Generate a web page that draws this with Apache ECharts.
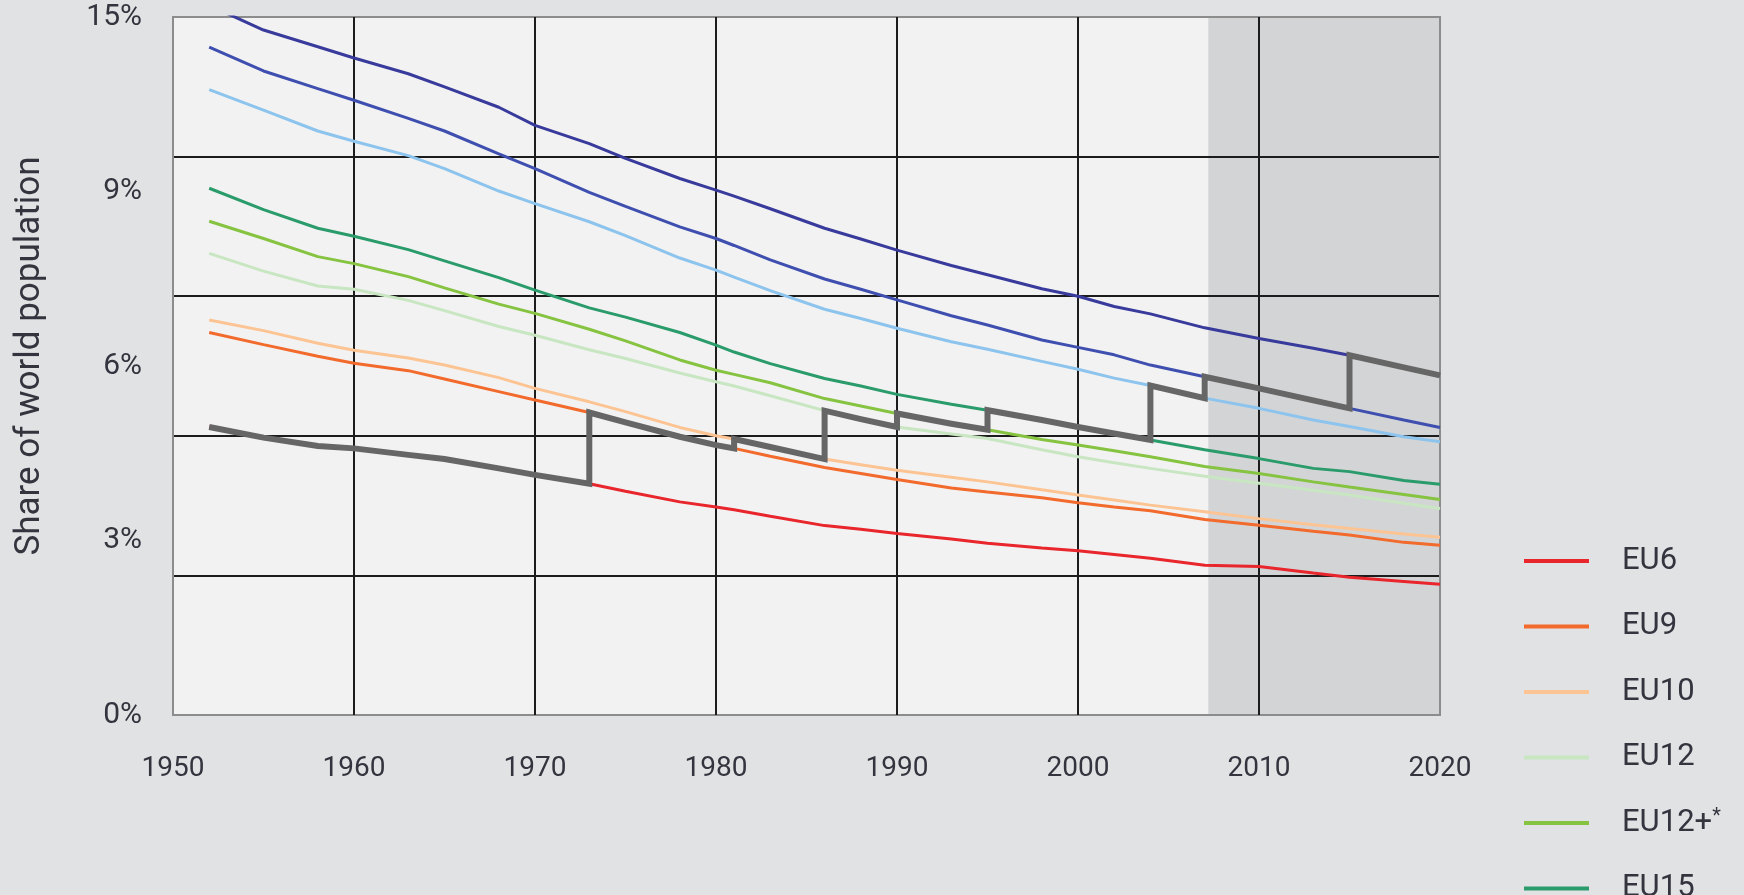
<!DOCTYPE html>
<html>
<head>
<meta charset="utf-8">
<script src="https://cdn.jsdelivr.net/npm/echarts@6/dist/echarts.min.js"></script>
<style>
html,body{margin:0;padding:0;background:#e1e2e4;}
#chart{width:1744px;height:895px;}
</style>
</head>
<body>
<div id="chart"></div>
<script>
// ---- data (share of world population, %) ----
const years = [1952,1955,1958,1960,1963,1965,1968,1970,1973,1975,1978,1980,1981,1983,1986,1988,1990,1993,1995,1998,2000,2002,2004,2007,2010,2013,2015,2018,2020];

const eu6   = [6.19,5.96,5.78,5.73,5.59,5.50,5.30,5.16,4.97,4.81,4.58,4.47,4.41,4.27,4.07,3.99,3.90,3.78,3.69,3.59,3.53,3.45,3.37,3.22,3.19,3.05,2.96,2.87,2.81];
const eu9   = [8.22,7.96,7.71,7.56,7.40,7.22,6.95,6.77,6.50,6.29,5.98,5.80,5.73,5.56,5.32,5.19,5.06,4.88,4.79,4.67,4.56,4.47,4.39,4.20,4.08,3.95,3.87,3.71,3.65];
const eu10  = [8.49,8.26,7.99,7.84,7.67,7.52,7.25,7.02,6.73,6.52,6.18,6.00,5.93,5.76,5.50,5.38,5.26,5.11,5.01,4.84,4.73,4.62,4.51,4.37,4.22,4.09,4.01,3.89,3.82];
const eu12  = [9.92,9.54,9.22,9.15,8.91,8.69,8.35,8.16,7.85,7.66,7.35,7.16,7.07,6.86,6.54,6.36,6.19,6.04,5.94,5.70,5.55,5.42,5.30,5.13,4.98,4.83,4.73,4.55,4.44];
const eu12p = [10.61,10.24,9.85,9.70,9.42,9.18,8.83,8.63,8.29,8.04,7.63,7.41,7.32,7.14,6.80,6.64,6.48,6.26,6.13,5.92,5.80,5.68,5.55,5.34,5.19,5.01,4.90,4.74,4.63];
const eu15  = [11.32,10.86,10.46,10.29,10.00,9.76,9.40,9.13,8.75,8.55,8.22,7.95,7.80,7.55,7.23,7.07,6.89,6.68,6.55,6.34,6.19,6.05,5.91,5.70,5.51,5.30,5.23,5.04,4.96];
const eu25  = [13.44,13.00,12.55,12.33,12.02,11.74,11.26,10.99,10.60,10.30,9.82,9.56,9.41,9.12,8.72,8.52,8.31,8.02,7.86,7.60,7.43,7.24,7.08,6.81,6.59,6.34,6.20,5.98,5.87];
const eu27  = [14.35,13.84,13.46,13.21,12.82,12.55,12.06,11.74,11.23,10.93,10.49,10.24,10.09,9.78,9.37,9.15,8.92,8.58,8.38,8.06,7.90,7.74,7.52,7.27,7.02,6.76,6.59,6.34,6.18];
const eu28  = [15.25,14.72,14.36,14.12,13.78,13.50,13.06,12.67,12.28,11.96,11.53,11.28,11.15,10.88,10.46,10.23,9.99,9.66,9.46,9.16,9.00,8.78,8.62,8.32,8.09,7.88,7.73,7.47,7.30];

const seriesNames  = ['EU6','EU9','EU10','EU12','EU12+*','EU15','EU25','EU27','EU28'];
const seriesValues = [eu6, eu9, eu10, eu12, eu12p, eu15, eu25, eu27, eu28];
const legendNames  = ['EU6','EU9','EU10','EU12','EU12+*','EU15'];

// the actual membership: series followed from each accession year on
const membershipSteps = [['EU6',1952],['EU9',1973],['EU10',1981],['EU12',1986],['EU12+*',1990],['EU15',1995],['EU25',2004],['EU27',2007],['EU28',2015]];
const membershipName = 'EU';

const yTickLabels = ['0%','3%','6%','9%','15%'];
const xMin = 1950, xMax = 2020, xStep = 10;
const yMin = 0, yMax = 15, yStep = 3;
const forecastRange = [2007.2, 2020];

// ---- styles ----
const colors = ['#e8262b','#f26a2c','#fdc493','#c8e6c1','#85c341','#2a9b6b','#8dc4ee','#3f4fb0','#383a9c'];
const textColor = '#33343e';
const fontFamily = 'Roboto, "Liberation Sans", Arial, sans-serif';

const byName = {};
seriesNames.forEach((n, i) => { byName[n] = seriesValues[i]; });

const membershipData = [];
membershipSteps.forEach(([name, start], i) => {
  const end = i + 1 < membershipSteps.length ? membershipSteps[i + 1][1] : xMax;
  years.forEach((y, k) => {
    if (y >= start && y <= end) membershipData.push([y, byName[name][k]]);
  });
});

const lineSeries = seriesNames.map((name, i) => ({
  name: name,
  type: 'line',
  data: years.map((y, k) => [y, seriesValues[i][k]]),
  showSymbol: false,
  symbol: 'none',
  color: colors[i],
  lineStyle: { width: 3, color: colors[i] },
  z: 5,
  clip: true,
  silent: true
}));

lineSeries[0].markArea = {
  silent: true,
  itemStyle: { color: '#d3d4d6' },
  data: [[{ xAxis: forecastRange[0] }, { xAxis: forecastRange[1] }]]
};

lineSeries.push({
  name: membershipName,
  type: 'line',
  data: membershipData,
  showSymbol: false,
  symbol: 'none',
  color: '#666666',
  lineStyle: { width: 6, color: '#666666', join: 'miter', cap: 'butt' },
  z: 6,
  clip: true,
  silent: true
});

const edge = '#8c8c8c', grid = '#1c1c1c';

const chart = echarts.init(document.getElementById('chart'));
chart.setOption({
  animation: false,
  backgroundColor: '#e1e2e4',
  textStyle: { fontFamily: fontFamily },
  grid: {
    left: 173, right: 304, top: 17, bottom: 180,
    show: true, backgroundColor: '#f2f2f2', borderColor: edge, borderWidth: 2
  },
  xAxis: {
    type: 'value', min: xMin, max: xMax, interval: xStep, z: 2,
    axisLine: { show: false }, axisTick: { show: false },
    axisLabel: { fontSize: 28, color: textColor, margin: 40, fontFamily: fontFamily, formatter: v => String(v) },
    splitLine: { show: true, lineStyle: { width: 2, color: [edge, grid, grid, grid, grid, grid, grid, edge] } }
  },
  yAxis: [{
    type: 'value', min: yMin, max: yMax, interval: yStep, z: 2,
    axisLine: { show: false }, axisTick: { show: false }, axisLabel: { show: false },
    splitLine: { show: true, lineStyle: { width: 2, color: [edge, grid, grid, grid, grid, edge] } }
  }, {
    type: 'value', min: 0, max: yTickLabels.length - 1, interval: 1, position: 'left', z: 2,
    axisLine: { show: false }, axisTick: { show: false }, splitLine: { show: false },
    axisLabel: {
      fontSize: 30, color: textColor, margin: 31, fontFamily: fontFamily,
      formatter: v => yTickLabels[Math.round(v)] || ''
    }
  }],
  legend: {
    data: legendNames,
    orient: 'vertical',
    left: 1519, top: 540, height: 600,
    itemWidth: 65, itemHeight: 4, itemGap: 33.5,
    icon: 'rect',
    selectedMode: false,
    formatter: n => n.replace('*', '{sup|*}'),
    textStyle: {
      fontSize: 31, color: textColor, fontFamily: fontFamily, lineHeight: 32,
      padding: [0, 0, 0, 28],
      rich: { sup: { fontSize: 20, lineHeight: 20, verticalAlign: 'top', color: textColor, fontFamily: fontFamily } }
    }
  },
  graphic: [{
    type: 'text',
    x: 30, y: 356,
    rotation: Math.PI / 2,
    style: {
      text: 'Share of world population',
      font: '35px ' + fontFamily,
      fill: textColor,
      textAlign: 'center', align: 'center',
      textVerticalAlign: 'middle', verticalAlign: 'middle'
    }
  }],
  series: lineSeries
});
</script>
</body>
</html>
